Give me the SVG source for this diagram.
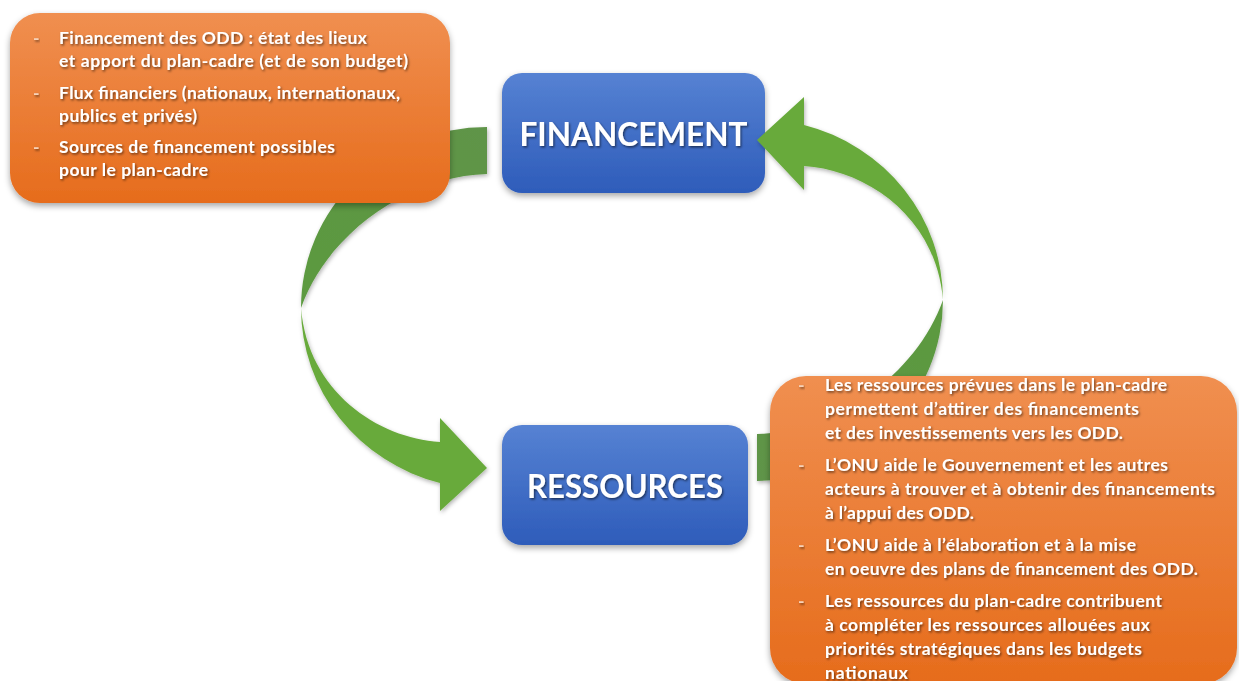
<svg xmlns="http://www.w3.org/2000/svg" width="1239" height="681" viewBox="0 0 1239 681">
  <defs>
    <linearGradient id="gOrange" x1="0" y1="0" x2="0" y2="1">
      <stop offset="0" stop-color="#f08f50"/>
      <stop offset="1" stop-color="#e66c1c"/>
    </linearGradient>
    <linearGradient id="gBlue" x1="0" y1="0" x2="0" y2="1">
      <stop offset="0" stop-color="#5682d3"/>
      <stop offset="1" stop-color="#2e5cba"/>
    </linearGradient>
    <linearGradient id="gBack" x1="1" y1="0" x2="0" y2="1">
      <stop offset="0" stop-color="#5f9448"/>
      <stop offset="1" stop-color="#5b9a3f"/>
    </linearGradient>
    <filter id="boxShadow" x="-10%" y="-10%" width="120%" height="130%">
      <feDropShadow dx="0" dy="3" stdDeviation="3" flood-color="#000" flood-opacity="0.35"/>
    </filter>
    <filter id="arrowShadow" x="-10%" y="-10%" width="120%" height="130%">
      <feDropShadow dx="1" dy="2" stdDeviation="2" flood-color="#000" flood-opacity="0.3"/>
    </filter>
    <filter id="textShadow" x="-5%" y="-30%" width="110%" height="160%">
      <feDropShadow dx="1.2" dy="1.5" stdDeviation="0.9" flood-color="#000" flood-opacity="0.55"/>
    </filter>
    <!-- curved arrow: darker back band rising to a flat tail, lighter front band ending in the head -->
    <g id="curvedArrow">
      <path fill="url(#gBack)" d="M487,127 A186,181 0 0 0 301,308 C328,232 410,176 487,174 Z"/>
      <path fill="#68aa3b" d="M301,308 A186,181 0 0 0 440,483 L440,511 L487,468 L440,418 L440,442 C378,438 308,392 301,308 Z"/>
    </g>
  </defs>
  <style>
    .boxO { fill: url(#gOrange); filter: url(#boxShadow); }
    .boxB { fill: url(#gBlue); filter: url(#boxShadow); }
    .txt { font-family: Lato, "Liberation Sans", sans-serif; font-weight: bold; font-size: 17.5px; fill: #ffffff; filter: url(#textShadow); }
    .dash { font-family: Lato, "Liberation Sans", sans-serif; font-weight: bold; font-size: 17.5px; fill: #f6d2b8; filter: url(#textShadow); }
    .big { font-family: Lato, "Liberation Sans", sans-serif; font-weight: bold; font-size: 33px; fill: #ffffff; text-anchor: middle; filter: url(#textShadow); }
  </style>

  <rect width="1239" height="681" fill="#ffffff"/>

  <!-- blue boxes -->
  <g id="node-financement">
    <rect class="boxB" x="502" y="73" width="263" height="120" rx="20"/>
    <text class="big" x="633.5" y="146" textLength="228" lengthAdjust="spacingAndGlyphs">FINANCEMENT</text>
  </g>
  <g id="node-ressources">
    <rect class="boxB" x="502" y="425" width="246" height="120" rx="20"/>
    <text class="big" x="625" y="498" textLength="196" lengthAdjust="spacingAndGlyphs">RESSOURCES</text>
  </g>

  <!-- connectors -->
  <g id="connectors">
    <g id="arrow-financement-ressources" filter="url(#arrowShadow)">
      <use href="#curvedArrow"/>
    </g>
    <g id="arrow-ressources-financement" filter="url(#arrowShadow)">
      <use href="#curvedArrow" transform="rotate(180 622 304)"/>
    </g>
  </g>

  <!-- orange note boxes -->
  <g id="node-financement-notes">
    <rect class="boxO" x="10" y="13" width="440" height="190" rx="30"/>
    <text class="dash" x="33" y="44">-</text>
    <text class="txt" x="59" y="44" textLength="308">Financement des ODD : état des lieux</text>
    <text class="txt" x="59" y="67" textLength="349">et apport du plan-cadre (et de son budget)</text>
    <text class="dash" x="33" y="99">-</text>
    <text class="txt" x="59" y="99" textLength="341">Flux financiers (nationaux, internationaux,</text>
    <text class="txt" x="59" y="122" textLength="138">publics et privés)</text>
    <text class="dash" x="33" y="153">-</text>
    <text class="txt" x="59" y="153" textLength="276">Sources de financement possibles</text>
    <text class="txt" x="59" y="176" textLength="149">pour le plan-cadre</text>
  </g>

  <g id="node-ressources-notes">
    <rect class="boxO" x="770" y="376" width="467" height="308" rx="36"/>
    <text class="dash" x="798" y="391">-</text>
    <text class="txt" x="825" y="391" textLength="342">Les ressources prévues dans le plan-cadre</text>
    <text class="txt" x="825" y="415" textLength="314">permettent d’attirer des financements</text>
    <text class="txt" x="825" y="439" textLength="298">et des investissements vers les ODD.</text>
    <text class="dash" x="798" y="471">-</text>
    <text class="txt" x="825" y="471" textLength="343">L’ONU aide le Gouvernement et les autres</text>
    <text class="txt" x="825" y="495" textLength="390">acteurs à trouver et à obtenir des financements</text>
    <text class="txt" x="825" y="519" textLength="149">à l’appui des ODD.</text>
    <text class="dash" x="798" y="551">-</text>
    <text class="txt" x="825" y="551" textLength="311">L’ONU aide à l’élaboration et à la mise</text>
    <text class="txt" x="825" y="575" textLength="373">en oeuvre des plans de financement des ODD.</text>
    <text class="dash" x="798" y="607">-</text>
    <text class="txt" x="825" y="607" textLength="337">Les ressources du plan-cadre contribuent</text>
    <text class="txt" x="825" y="631" textLength="325">à compléter les ressources allouées aux</text>
    <text class="txt" x="825" y="655" textLength="317">priorités stratégiques dans les budgets</text>
    <text class="txt" x="825" y="679" textLength="83">nationaux</text>
  </g>
</svg>
